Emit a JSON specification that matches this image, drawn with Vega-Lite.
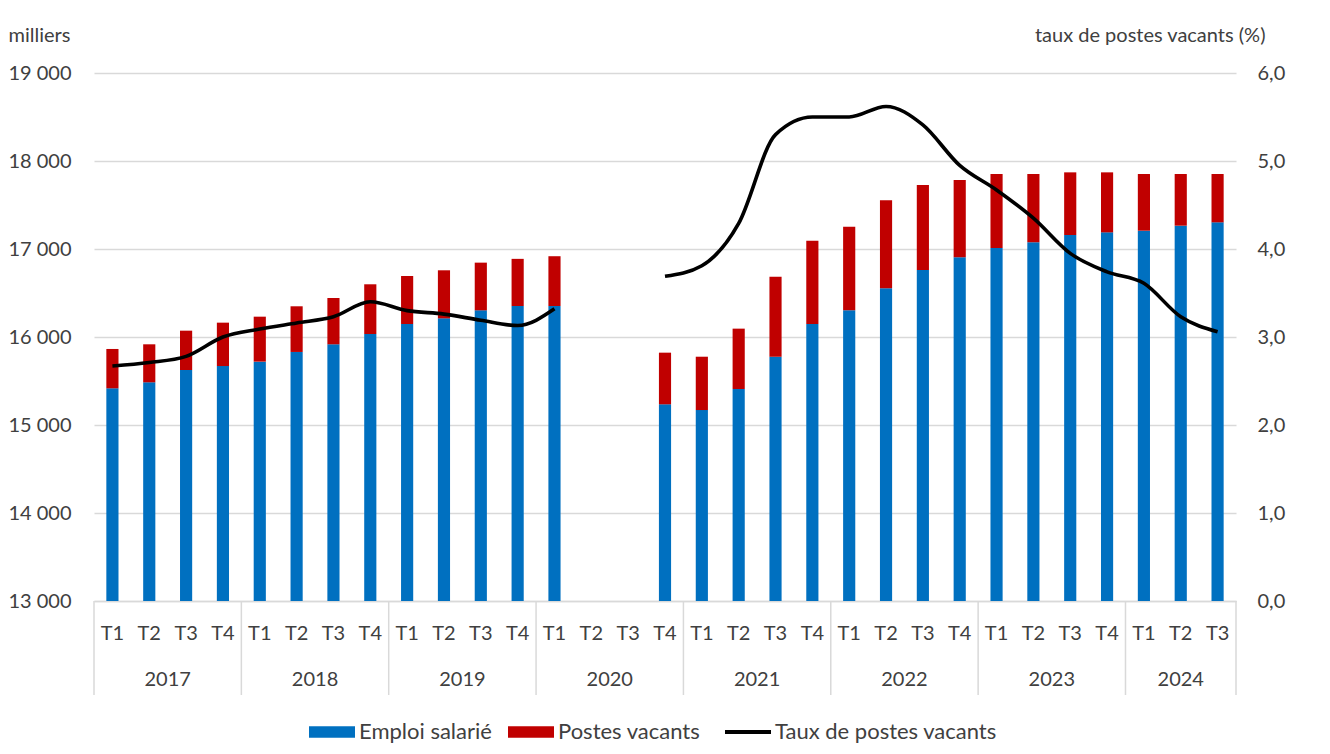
{
  "$schema": "https://vega.github.io/schema/vega-lite/v6.json",
  "autosize": {"type": "none"},
  "padding": {"left": 94, "top": 73, "right": 94, "bottom": 153},
  "width": 1142,
  "height": 528,
  "config": {
    "view": {"stroke": null},
    "font": "Lato",
    "axis": {"labelFont": "Lato", "titleFont": "Lato", "labelColor": "#404040", "titleColor": "#404040", "titleFontWeight": "normal"},
    "legend": {"labelFont": "Lato", "labelColor": "#404040"}
  },
  "data": {
    "values": [
      {"annee": "2017", "cle": "2017 T1", "Emploi salarié": 15417, "Postes vacants": 447, "taux": 2.67},
      {"annee": "2017", "cle": "2017 T2", "Emploi salarié": 15485, "Postes vacants": 432, "taux": 2.71},
      {"annee": "2017", "cle": "2017 T3", "Emploi salarié": 15625, "Postes vacants": 447, "taux": 2.78},
      {"annee": "2017", "cle": "2017 T4", "Emploi salarié": 15670, "Postes vacants": 493, "taux": 3.00},
      {"annee": "2018", "cle": "2018 T1", "Emploi salarié": 15720, "Postes vacants": 511, "taux": 3.09},
      {"annee": "2018", "cle": "2018 T2", "Emploi salarié": 15830, "Postes vacants": 519, "taux": 3.16},
      {"annee": "2018", "cle": "2018 T3", "Emploi salarié": 15917, "Postes vacants": 526, "taux": 3.23},
      {"annee": "2018", "cle": "2018 T4", "Emploi salarié": 16034, "Postes vacants": 565, "taux": 3.40},
      {"annee": "2019", "cle": "2019 T1", "Emploi salarié": 16148, "Postes vacants": 545, "taux": 3.30},
      {"annee": "2019", "cle": "2019 T2", "Emploi salarié": 16212, "Postes vacants": 546, "taux": 3.26},
      {"annee": "2019", "cle": "2019 T3", "Emploi salarié": 16303, "Postes vacants": 542, "taux": 3.19},
      {"annee": "2019", "cle": "2019 T4", "Emploi salarié": 16352, "Postes vacants": 536, "taux": 3.13},
      {"annee": "2020", "cle": "2020 T1", "Emploi salarié": 16352, "Postes vacants": 566, "taux": 3.32},
      {"annee": "2020", "cle": "2020 T2", "Emploi salarié": null, "Postes vacants": null, "taux": null},
      {"annee": "2020", "cle": "2020 T3", "Emploi salarié": null, "Postes vacants": null, "taux": null},
      {"annee": "2020", "cle": "2020 T4", "Emploi salarié": 15235, "Postes vacants": 587, "taux": 3.69},
      {"annee": "2021", "cle": "2021 T1", "Emploi salarié": 15170, "Postes vacants": 606, "taux": 3.81},
      {"annee": "2021", "cle": "2021 T2", "Emploi salarié": 15409, "Postes vacants": 686, "taux": 4.29},
      {"annee": "2021", "cle": "2021 T3", "Emploi salarié": 15776, "Postes vacants": 909, "taux": 5.30},
      {"annee": "2021", "cle": "2021 T4", "Emploi salarié": 16148, "Postes vacants": 946, "taux": 5.50},
      {"annee": "2022", "cle": "2022 T1", "Emploi salarié": 16303, "Postes vacants": 950, "taux": 5.50},
      {"annee": "2022", "cle": "2022 T2", "Emploi salarié": 16553, "Postes vacants": 1000, "taux": 5.62},
      {"annee": "2022", "cle": "2022 T3", "Emploi salarié": 16761, "Postes vacants": 966, "taux": 5.41},
      {"annee": "2022", "cle": "2022 T4", "Emploi salarié": 16906, "Postes vacants": 878, "taux": 4.95},
      {"annee": "2023", "cle": "2023 T1", "Emploi salarié": 17011, "Postes vacants": 841, "taux": 4.67},
      {"annee": "2023", "cle": "2023 T2", "Emploi salarié": 17076, "Postes vacants": 776, "taux": 4.35},
      {"annee": "2023", "cle": "2023 T3", "Emploi salarié": 17159, "Postes vacants": 712, "taux": 3.95},
      {"annee": "2023", "cle": "2023 T4", "Emploi salarié": 17189, "Postes vacants": 682, "taux": 3.74},
      {"annee": "2024", "cle": "2024 T1", "Emploi salarié": 17208, "Postes vacants": 644, "taux": 3.61},
      {"annee": "2024", "cle": "2024 T2", "Emploi salarié": 17265, "Postes vacants": 587, "taux": 3.23},
      {"annee": "2024", "cle": "2024 T3", "Emploi salarié": 17303, "Postes vacants": 549, "taux": 3.06}
    ]
  },
  "layer": [
    {
      "layer": [
        {
          "transform": [{"fold": ["Emploi salarié", "Postes vacants"], "as": ["serie", "valeur"]}],
          "mark": {"type": "bar", "clip": true},
          "encoding": {
            "x": {
              "field": "cle", "type": "nominal",
              "scale": {
                "domain": ["2017 T1","2017 T2","2017 T3","2017 T4","2018 T1","2018 T2","2018 T3","2018 T4","2019 T1","2019 T2","2019 T3","2019 T4","2020 T1","2020 T2","2020 T3","2020 T4","2021 T1","2021 T2","2021 T3","2021 T4","2022 T1","2022 T2","2022 T3","2022 T4","2023 T1","2023 T2","2023 T3","2023 T4","2024 T1","2024 T2","2024 T3"],
                "paddingInner": 0.67, "paddingOuter": 0.335
              },
              "axis": {
                "title": null, "labelExpr": "slice(datum.value, 5)", "labelAngle": 0,
                "labelFontSize": 20, "labelPadding": 22, "ticks": false,
                "domain": true, "domainColor": "#d9d9d9", "domainWidth": 1.5, "labelOverlap": false
              }
            },
            "y": {
              "field": "valeur", "type": "quantitative", "stack": "zero",
              "scale": {"domain": [13000, 19000], "nice": false, "zero": false},
              "axis": {
                "values": [13000, 14000, 15000, 16000, 17000, 18000, 19000],
                "labelExpr": "replace(format(datum.value, ','), ',', ' ')",
                "labelFontSize": 20, "labelPadding": 23, "ticks": false, "domain": false,
                "grid": true, "gridColor": "#d9d9d9", "gridWidth": 1.5,
                "title": "milliers", "titleAngle": 0, "titleAlign": "left", "titleBaseline": "middle",
                "titleX": -86, "titleY": -38, "titleFontSize": 20
              }
            },
            "order": {"field": "serie", "sort": "ascending"},
            "color": {
              "field": "serie", "type": "nominal",
              "scale": {"domain": ["Emploi salarié", "Postes vacants", "Taux de postes vacants"], "range": ["#0070C0", "#C00000", "#000000"]},
              "legend": {
                "title": null, "orient": "none", "direction": "horizontal",
                "legendX": 227, "legendY": 648, "padding": 0,
                "labelFontSize": 22, "labelOffset": 16, "columnPadding": 16, "labelLimit": 400,
                "symbolType": "M-1,-0.25H1V0.25H-1Z", "symbolSize": 2116, "symbolStrokeWidth": 0,
                "encode": {
                  "symbols": {
                    "update": {
                      "shape": {"signal": "datum.label == 'Taux de postes vacants' ? 'M-1,0H1' : 'M-1,-0.25H1V0.25H-1Z'"},
                      "strokeWidth": {"signal": "datum.label == 'Taux de postes vacants' ? 4 : 0"},
                      "stroke": {"signal": "datum.label == 'Taux de postes vacants' ? '#000000' : 'transparent'"}
                    }
                  }
                }
              }
            }
          }
        },
        {
          "transform": [{"filter": "slice(datum.cle, 5) == 'T2' && datum.annee != '2024'"}],
          "mark": {"type": "text", "fontSize": 20, "color": "#404040", "baseline": "middle", "align": "center"},
          "encoding": {
            "x": {"field": "cle", "type": "nominal", "bandPosition": 2.015},
            "y": {"datum": 12102, "type": "quantitative"},
            "text": {"field": "annee"}
          }
        },
        {
          "transform": [{"filter": "datum.cle == '2024 T2'"}],
          "mark": {"type": "text", "fontSize": 20, "color": "#404040", "baseline": "middle", "align": "center"},
          "encoding": {
            "x": {"field": "cle", "type": "nominal", "bandPosition": 0.5},
            "y": {"datum": 12102, "type": "quantitative"},
            "text": {"field": "annee"}
          }
        },
        {
          "transform": [{"filter": "slice(datum.cle, 5) == 'T1'"}],
          "mark": {"type": "rule", "color": "#d9d9d9", "strokeWidth": 1.5},
          "encoding": {
            "x": {"field": "cle", "type": "nominal", "bandPosition": -1.015},
            "y": {"datum": 13000, "type": "quantitative"},
            "y2": {"datum": 11932}
          }
        },
        {
          "transform": [{"filter": "datum.cle == '2024 T3'"}],
          "mark": {"type": "rule", "color": "#d9d9d9", "strokeWidth": 1.5},
          "encoding": {
            "x": {"field": "cle", "type": "nominal", "bandPosition": 2.015},
            "y": {"datum": 13000, "type": "quantitative"},
            "y2": {"datum": 11932}
          }
        }
      ]
    },
    {
      "mark": {"type": "line", "interpolate": "monotone", "strokeWidth": 3.6, "invalid": "break-paths-show-domains"},
      "encoding": {
        "x": {"field": "cle", "type": "nominal"},
        "y": {
          "field": "taux", "type": "quantitative",
          "scale": {"domain": [0, 6], "nice": false},
          "axis": {
            "orient": "right", "values": [0, 1, 2, 3, 4, 5, 6],
            "labelExpr": "replace(format(datum.value, '.1f'), '.', ',')",
            "labelFontSize": 20, "labelPadding": 21, "ticks": false, "domain": false, "grid": false,
            "title": "taux de postes vacants (%)", "titleAngle": 0, "titleAlign": "right", "titleBaseline": "middle",
            "titleX": 29, "titleY": -38, "titleFontSize": 20
          }
        },
        "color": {"datum": "Taux de postes vacants"}
      }
    }
  ],
  "resolve": {"scale": {"y": "independent"}}
}
